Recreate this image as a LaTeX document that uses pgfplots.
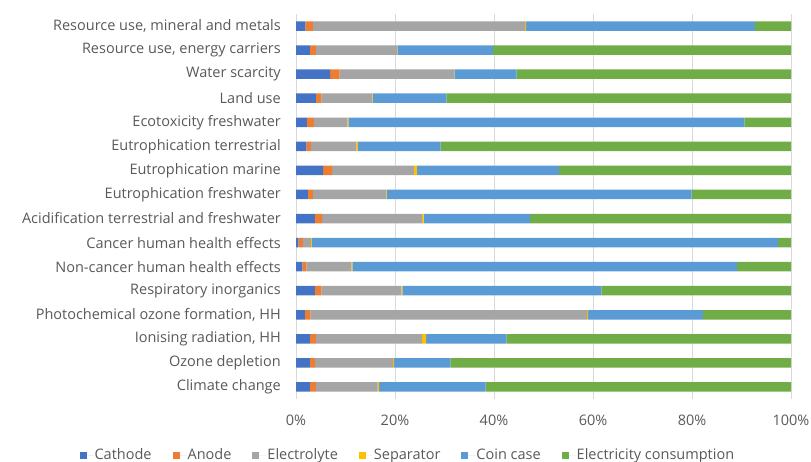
\documentclass[border=0pt]{standalone}
\usepackage{pgfplots}
\pgfplotsset{compat=1.18}
\usepackage{pgfplotstable}
\usepackage{fontspec}
\setmainfont{Open Sans}

\definecolor{cCathode}{HTML}{4472C4}
\definecolor{cAnode}{HTML}{ED7D31}
\definecolor{cElectrolyte}{HTML}{A5A5A5}
\definecolor{cSeparator}{HTML}{FFC000}
\definecolor{cCoin}{HTML}{5B9BD5}
\definecolor{cElectricity}{HTML}{70AD47}
\definecolor{labelgray}{HTML}{595959}
\definecolor{gridgray}{HTML}{D9D9D9}

\newcommand{\chartfont}{\fontsize{14.5bp}{17bp}\selectfont}

% Share of each component in every impact category (%)
\pgfplotstableread{
idx cathode anode electrolyte separator coin electricity
0   2.8 1.2 12.5 0.3 21.5 61.7
1   2.8 1.0 15.8 0.2 11.4 68.8
2   2.8 1.2 21.5 0.8 16.2 57.5
3   1.8 1.1 55.9 0.2 23.2 17.8
4   3.8 1.3 16.2 0.2 40.2 38.3
5   1.3 0.8  9.1 0.2 77.7 10.9
6   0.5 0.9  1.6 0.2 94.2  2.6
7   3.8 1.5 20.2 0.3 21.5 52.7
8   2.4 1.0 14.8 0.1 61.6 20.1
9   5.5 1.8 16.5 0.6 28.7 46.9
10  2.1 0.9  9.2 0.3 16.7 70.8
11  2.2 1.4  6.8 0.2 80.0  9.4
12  4.0 1.1 10.3 0.1 14.9 69.6
13  6.9 1.9 23.1 0.1 12.5 55.5
14  2.8 1.2 16.4 0.1 19.3 60.2
15  1.9 1.5 42.9 0.2 46.2  7.3
}\impacts

\begin{document}
\chartfont
\begin{tikzpicture}[x=1bp,y=1bp]
\useasboundingbox (0,0) rectangle (811,462);
\begin{axis}[
  at={(296bp,63bp)}, anchor=south west,
  scale only axis,
  width=495bp, height=385bp,
  xbar stacked,
  bar width=9.5bp,
  xmin=0, xmax=100,
  ymin=-0.5, ymax=15.5,
  xtick={0,20,40,60,80,100},
  xticklabel={\pgfmathprintnumber{\tick}\%},
  ytick={0,...,15},
  yticklabels={Climate change, Ozone depletion, {Ionising radiation, HH},
    {Photochemical ozone formation, HH}, Respiratory inorganics,
    Non-cancer human health effects, Cancer human health effects,
    Acidification terrestrial and freshwater, Eutrophication freshwater,
    Eutrophication marine, Eutrophication terrestrial, Ecotoxicity freshwater,
    Land use, Water scarcity, {Resource use, energy carriers},
    {Resource use, mineral and metals}},
  /pgf/number format/assume math mode=true,
  tick style={draw=none},
  major tick length=0pt,
  axis line style={draw=none},
  xmajorgrids,
  grid style={gridgray, line width=0.75bp},
  ticklabel style={text=labelgray, font=\chartfont},
  yticklabel style={anchor=east, inner sep=0pt, xshift=-15bp},
  xticklabel style={anchor=north, inner sep=0pt, yshift=-16bp},
  legend columns=6,
  legend style={
    at={(0.225,-0.146)}, anchor=center,
    draw=none, fill=none,
    font=\chartfont, text=labelgray,
    inner sep=0pt,
    nodes={inner sep=1bp},
    /tikz/every even column/.append style={column sep=20bp},
  },
  legend image code/.code={%
    \fill[#1] (0bp,-3.5bp) rectangle (7bp,3.5bp);
    \path (0bp,0bp) -- (14bp,0bp);},
]
\addplot[fill=cCathode, draw=none] table[x=cathode, y=idx] {\impacts};
\addlegendentry{Cathode}
\addplot[fill=cAnode, draw=none] table[x=anode, y=idx] {\impacts};
\addlegendentry{Anode}
\addplot[fill=cElectrolyte, draw=none] table[x=electrolyte, y=idx] {\impacts};
\addlegendentry{Electrolyte}
\addplot[fill=cSeparator, draw=none] table[x=separator, y=idx] {\impacts};
\addlegendentry{Separator}
\addplot[fill=cCoin, draw=none] table[x=coin, y=idx] {\impacts};
\addlegendentry{Coin case}
\addplot[fill=cElectricity, draw=none] table[x=electricity, y=idx] {\impacts};
\addlegendentry{Electricity consumption}
\end{axis}
\end{tikzpicture}
\end{document}
